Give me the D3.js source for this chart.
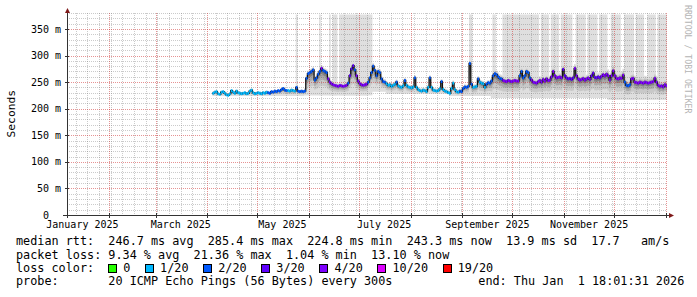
<!DOCTYPE html>
<html><head><meta charset="utf-8">
<script src="https://cdn.jsdelivr.net/npm/d3@7"></script>
<style>
html,body{margin:0;padding:0;background:#fff;}
svg{display:block;}
text{font-family:"DejaVu Sans Mono",monospace;fill:#000;white-space:pre;}
</style>
</head><body>
<svg id="chart" width="697" height="297"></svg>
<script>
// ---------------- DATA ----------------
const timeStart = "2025-01-06T18:01:31";
const timeEnd = "2026-01-01T18:01:31";

// daily median RTT (ms), one value per day starting at medianStart
const medianStart = "2025-04-04";
const medianMs = [
229,231,232,228,227,231,232,229,226,225,228,234,
231,229,233,230,229,228,229,230,228,229,233,235,230,228,229,230,229,228,230,229,231,230,229,
232,231,233,232,234,233,
236,238,235,234,
234,233,235,234,233,
240,
233,232,233,232,233,
257,266,268,270,273,254,258,265,270,276,272,270,268,256,
250,247,245,244,243,242,244,243,242,243,244,
248,262,275,281,273,
262,252,247,245,244,245,246,
250,258,268,280,272,262,270,268,256,251,250,
247,244,245,242,244,246,250,243,241,240,243,253,244,241,240,239,241,
258,240,236,234,233,235,234,232,
240,258,240,235,234,233,234,237,251,236,233,232,230,
229,238,248,236,232,231,233,232,238,241,240,242,
285,246,240,241,242,256,250,248,247,240,246,249,248,
252,262,266,264,260,257,256,
253,252,251,253,252,251,252,253,252,252,
262,270,258,262,270,268,258,254,250,249,248,
251,253,250,255,252,256,253,254,
260,270,262,258,259,260,258,274,
262,258,256,257,255,258,276,
262,256,254,255,257,254,256,258,255,
262,267,259,258,260,258,261,264,262,265,262,254,262,271,
262,257,256,258,257,263,250,244,243,245,256,257,
250,249,248,250,249,248,250,249,248,249,250,251,
257,250,244,242,243,241,245,243
];

// packet loss level (index into lossLabels) starting at each date
const lossRuns = [
["2025-04-04",1],["2025-05-07",2],["2025-05-19",1],["2025-05-24",2],["2025-06-08",4],
["2025-06-09",2],["2025-06-12",4],["2025-06-24",2],["2025-06-25",3],["2025-06-28",2],
["2025-06-29",4],["2025-07-06",2],["2025-07-17",1],["2025-07-23",2],["2025-07-24",1],
["2025-07-28",2],["2025-07-29",1],["2025-08-03",2],["2025-08-04",1],["2025-08-12",2],
["2025-08-13",1],["2025-08-19",2],["2025-08-20",1],["2025-08-30",2],["2025-09-07",1],
["2025-09-10",2],["2025-09-11",1],["2025-09-15",2],["2025-09-25",4],["2025-10-05",2],
["2025-10-12",4],["2025-10-31",3],["2025-11-07",4],["2025-11-17",3],["2025-11-23",4],
["2025-12-07",2],["2025-12-11",4]
];
const lossLabels = ["0","1/20","2/20","3/20","4/20","10/20","19/20"];
const lossColors = ["#26ff00","#00b8ff","#0059ff","#5e00ff","#7e00ff","#dd00ff","#ff0000"];

// smoke: lowest ping (ms, absolute) and spread above median (ms)
const smokeLoRuns = [
["2025-04-04",224],["2025-05-07",224],["2025-05-29",225],["2025-07-06",232],
["2025-07-17",228],["2025-08-24",224],["2025-09-18",220],["2025-11-27",217]
];
const smokeUpRuns = [
["2025-04-04",3],["2025-05-29",6],["2025-07-17",5],["2025-09-18",8],["2025-11-27",12]
];

// periods where some pings exceeded the graph top
const spikeBars = [
["2025-05-24","2025-05-25"],["2025-06-07","2025-06-08"],["2025-06-13","2025-06-14"],
["2025-06-15","2025-06-18"],["2025-06-19","2025-07-09"],["2025-09-05","2025-09-07"],
["2025-09-19","2025-09-21"],["2025-09-25","2025-10-17"],["2025-10-18","2025-10-23"],
["2025-10-24","2025-10-29"],["2025-10-30","2025-11-06"],["2025-11-08","2025-11-14"],
["2025-11-15","2025-11-21"],["2025-11-22","2025-11-27"],["2025-11-29","2025-12-05"],
["2025-12-07","2025-12-13"],["2025-12-14","2025-12-19"],["2025-12-21","2025-12-26"],
["2025-12-27","2026-01-02"]
];

const yTicks = [0,50,100,150,200,250,300,350];
const yTickLabels = ["0","50 m","100 m","150 m","200 m","250 m","300 m","350 m"];
const xLabelMonths = ["2025-01-01","2025-03-01","2025-05-01","2025-07-01","2025-09-01","2025-11-01"];
const xLabels = ["January 2025","March 2025","May 2025","July 2025","September 2025","November 2025"];

const yAxisTitle = "Seconds";
const watermark = "RRDTOOL / TOBI OETIKER";
const legendRtt = "median rtt:  246.7 ms avg  285.4 ms max  224.8 ms min  243.3 ms now  13.9 ms sd  17.7   am/s";
const legendLoss = "packet loss: 9.34 % avg  21.36 % max  1.04 % min  13.10 % now";
const legendColorTitle = "loss color:";
const legendProbe = "probe:       20 ICMP Echo Pings (56 Bytes) every 300s";
const legendEnd = "end: Thu Jan  1 18:01:31 2026";

// ---------------- DRAW ----------------
const parse = s => new Date(s.length > 10 ? s + "Z" : s + "T00:00:00Z");
const svg = d3.select("#chart");
const L = 67, R = 667, T = 13, B = 215;
const x = d3.scaleUtc().domain([parse(timeStart), parse(timeEnd)]).range([L, R]);
const y = d3.scaleLinear().domain([0, 380]).range([B, T]);

svg.append("rect").attr("width", 697).attr("height", 297).attr("fill", "#fff");
svg.append("defs").append("clipPath").attr("id", "plot")
  .append("rect").attr("x", L).attr("y", T).attr("width", R - L).attr("height", B - T);

function runValue(runs, date) {
  let v = runs[0][1];
  for (const r of runs) if (parse(r[0]) <= date) v = r[1];
  return v;
}
const start = parse(medianStart);
const pts = medianMs.map((m, i) => {
  const d = d3.utcDay.offset(start, i);
  return { d, d2: d3.utcDay.offset(d, 1), med: m, loss: runValue(lossRuns, d),
           lo: Math.min(runValue(smokeLoRuns, d), m), up: runValue(smokeUpRuns, d) };
});
const ext = pts.concat([Object.assign({}, pts[pts.length - 1], { d: pts[pts.length - 1].d2 })]);

const g = svg.append("g").attr("clip-path", "url(#plot)");

// spike bars (light grey smoke reaching top)
g.append("g").selectAll("rect").data(spikeBars).join("rect")
  .attr("x", d => x(parse(d[0])))
  .attr("width", d => x(parse(d[1])) - x(parse(d[0])))
  .attr("y", T + 1.5)
  .attr("height", d => y(runValue(smokeLoRuns, parse(d[0]))) - T - 1.5)
  .attr("fill", "#dfdfdf");

// smoke layers
const shades = [[1, "#dedede"], [0.62, "#c8c8c8"], [0.38, "#a8a8a8"], [0.2, "#828282"], [0.08, "#505050"]];
shades.forEach(([f, c]) => {
  const area = d3.area().curve(d3.curveStepAfter)
    .x(p => x(p.d))
    .y0(p => y(p.med - f * (p.med - p.lo)))
    .y1(p => y(p.med + f * p.up));
  g.append("path").datum(ext).attr("d", area).attr("fill", c);
});

// grid
const grid = svg.append("g");
const minorC = "rgba(110,110,110,0.36)", majorC = "rgba(205,40,40,0.5)";
for (let v = 10; v <= 380; v += 10) {
  if (v % 50 === 0 && v <= 350) continue;
  const yy = Math.round(y(v)) + 0.5;
  grid.append("line").attr("x1", L).attr("x2", R).attr("y1", yy).attr("y2", yy)
    .attr("stroke", minorC).attr("stroke-dasharray", "1,1");
}
const weeks = d3.utcSunday.range(parse(timeStart), parse(timeEnd));
weeks.forEach(w => {
  const xx = Math.round(x(w)) + 0.5;
  grid.append("line").attr("x1", xx).attr("x2", xx).attr("y1", T).attr("y2", B)
    .attr("stroke", minorC).attr("stroke-dasharray", "1,1");
});
yTicks.filter(v => v > 0).forEach(v => {
  const yy = Math.round(y(v)) + 0.5;
  grid.append("line").attr("x1", L).attr("x2", R).attr("y1", yy).attr("y2", yy)
    .attr("stroke", majorC).attr("stroke-dasharray", "1,1");
});
const months = d3.utcMonth.range(parse(timeStart), parse(timeEnd));
months.forEach(m => {
  const xx = Math.round(x(m)) + 0.5;
  grid.append("line").attr("x1", xx).attr("x2", xx).attr("y1", T).attr("y2", B)
    .attr("stroke", majorC).attr("stroke-dasharray", "1,1");
});

// median line
const g2 = svg.append("g").attr("clip-path", "url(#plot)");
g2.append("path").datum(ext)
  .attr("d", d3.line().curve(d3.curveStepAfter).x(p => x(p.d)).y(p => y(p.med)))
  .attr("fill", "none").attr("stroke", "#111").attr("stroke-width", 1.3);
g2.append("g").selectAll("line").data(pts).join("line")
  .attr("x1", p => x(p.d)).attr("x2", p => x(p.d2))
  .attr("y1", p => y(p.med)).attr("y2", p => y(p.med))
  .attr("stroke", p => lossColors[p.loss]).attr("stroke-width", 2.8);

// axes
const axC = "#333";
svg.append("line").attr("x1", L + 0.5).attr("x2", L + 0.5).attr("y1", B + 3).attr("y2", T - 2)
  .attr("stroke", axC);
svg.append("line").attr("x1", L - 4).attr("x2", R + 3).attr("y1", B + 0.5).attr("y2", B + 0.5)
  .attr("stroke", axC);
months.forEach(m => {
  const xx = Math.round(x(m)) + 0.5;
  svg.append("line").attr("x1", xx).attr("x2", xx).attr("y1", B - 2).attr("y2", B + 3).attr("stroke", axC);
});
yTicks.forEach(v => {
  const yy = Math.round(y(v)) + 0.5;
  svg.append("line").attr("x1", L - 2).attr("x2", L + 2).attr("y1", yy).attr("y2", yy).attr("stroke", axC);
});
const arrowC = "#7f1a1a";
svg.append("path").attr("d", `M${L + 0.5},${T - 5} L${L + 3},${T} L${L - 2},${T} Z`).attr("fill", arrowC);
svg.append("path").attr("d", `M${R + 7},${B + 0.5} L${R + 2},${B - 2} L${R + 2},${B + 3} Z`).attr("fill", arrowC);

// y tick labels
svg.append("g").selectAll("text").data(yTicks).join("text")
  .attr("x", 61).attr("y", v => y(v) + 3.6)
  .attr("text-anchor", "end").attr("font-size", "10px")
  .text((v, i) => yTickLabels[i].indexOf(" ") < 0 ? yTickLabels[i] + "  " : yTickLabels[i]);

// x labels
svg.append("g").selectAll("text").data(xLabelMonths).join("text")
  .attr("x", m => x(d3.utcDay.offset(parse(m), 15)))
  .attr("y", 228.3).attr("text-anchor", "middle").attr("font-size", "10px")
  .text((m, i) => xLabels[i]);

// titles
svg.append("text").attr("transform", "translate(15,113.7) rotate(-90)")
  .attr("text-anchor", "middle").attr("font-size", "11.3px").text(yAxisTitle);
svg.append("text").attr("transform", "translate(685,5) rotate(90)")
  .attr("font-size", "8.2px").style("fill", "#b4b4b4").text(watermark);

// legend
const LF = "11.8px", cw = 7.1;
const lx = 16;
svg.append("text").attr("x", lx).attr("y", 245.3).attr("font-size", LF).text(legendRtt);
svg.append("text").attr("x", lx).attr("y", 258.6).attr("font-size", LF).text(legendLoss);
svg.append("text").attr("x", lx).attr("y", 271.9).attr("font-size", LF).text(legendColorTitle);
let bx = 108.3;
lossLabels.forEach((lab, i) => {
  svg.append("rect").attr("x", Math.round(bx) + 0.5).attr("y", 264.5).attr("width", 8).attr("height", 8)
    .attr("fill", lossColors[i]).attr("stroke", "#000");
  svg.append("text").attr("x", bx + 15).attr("y", 271.9).attr("font-size", LF).text(lab);
  bx = bx + 15 + lab.length * cw + 14.7;
});
svg.append("text").attr("x", lx).attr("y", 285.2).attr("font-size", LF).text(legendProbe);
svg.append("text").attr("x", 478.3).attr("y", 285.2).attr("font-size", LF).text(legendEnd);
</script>
</body></html>
